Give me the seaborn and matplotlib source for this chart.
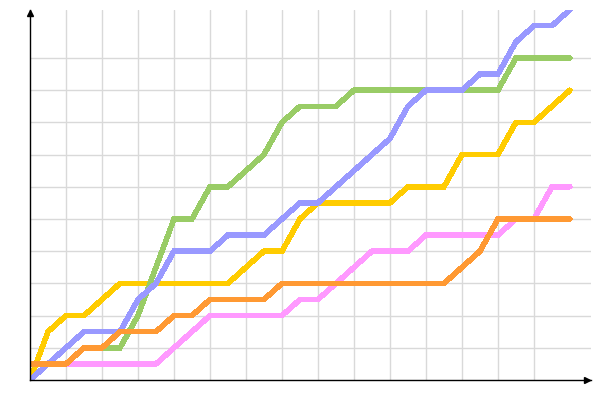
import matplotlib
matplotlib.use("Agg")
import matplotlib.pyplot as plt
import seaborn as sns
import pandas as pd

# step index along x (31 points)
steps = list(range(31))

blue = [0, 1, 2, 3, 3, 3, 5, 6, 8, 8, 8, 9, 9, 9, 10, 11, 11, 12, 13, 14, 15,
        17, 18, 18, 18, 19, 19, 21, 22, 22, 23]
green = [0, 1, 1, 2, 2, 2, 4, 7, 10, 10, 12, 12, 13, 14, 16, 17, 17, 17, 18, 18,
         18, 18, 18, 18, 18, 18, 18, 20, 20, 20, 20]
yellow = [0, 3, 4, 4, 5, 6, 6, 6, 6, 6, 6, 6, 7, 8, 8, 10, 11, 11, 11, 11, 11,
          12, 12, 12, 14, 14, 14, 16, 16, 17, 18]
orange = [1, 1, 1, 2, 2, 3, 3, 3, 4, 4, 5, 5, 5, 5, 6, 6, 6, 6, 6, 6, 6, 6, 6,
          6, 7, 8, 10, 10, 10, 10, 10]
pink = [1, 1, 1, 1, 1, 1, 1, 1, 2, 3, 4, 4, 4, 4, 4, 5, 5, 6, 7, 8, 8, 8, 9, 9,
        9, 9, 9, 10, 10, 12, 12]

series = {"yellow": yellow, "green": green, "blue": blue,
          "pink": pink, "orange": orange}
colours = {"yellow": "#ffcc00", "green": "#99cc66", "blue": "#9999ff",
           "pink": "#ff99ff", "orange": "#ff9933"}

rows = []
for name, vals in series.items():
    for x, v in zip(steps, vals):
        rows.append({"step": x, "value": v, "series": name})
df = pd.DataFrame(rows)

sns.set_style("white")
fig = plt.figure(figsize=(6, 4), dpi=100)
ax = fig.add_axes([0.05, 0.05, 0.935, 0.925])

sns.lineplot(data=df, x="step", y="value", hue="series",
             hue_order=list(series.keys()), palette=colours,
             linewidth=3.2, legend=False, ax=ax, antialiased=False,
             solid_joinstyle="miter")

ax.set_xlim(0, 31.17)
ax.set_ylim(0, 22.98)
ax.set_xticks(range(2, 30, 2))
ax.set_yticks(range(2, 22, 2))
ax.grid(True, color="#d9d9d9", linewidth=1)
ax.set_axisbelow(True)
ax.tick_params(length=0, labelbottom=False, labelleft=False)
ax.set_xlabel("")
ax.set_ylabel("")

for s in ["top", "right"]:
    ax.spines[s].set_visible(False)
for s in ["left", "bottom"]:
    ax.spines[s].set_color("black")
    ax.spines[s].set_linewidth(1)

# arrow heads on the axes
ax.plot(0, 0.992, marker="^", color="black", markersize=4,
        transform=ax.transAxes, clip_on=False)
ax.plot(0.993, 0, marker=">", color="black", markersize=4,
        transform=ax.transAxes, clip_on=False)

fig.savefig("out.png", dpi=100)
